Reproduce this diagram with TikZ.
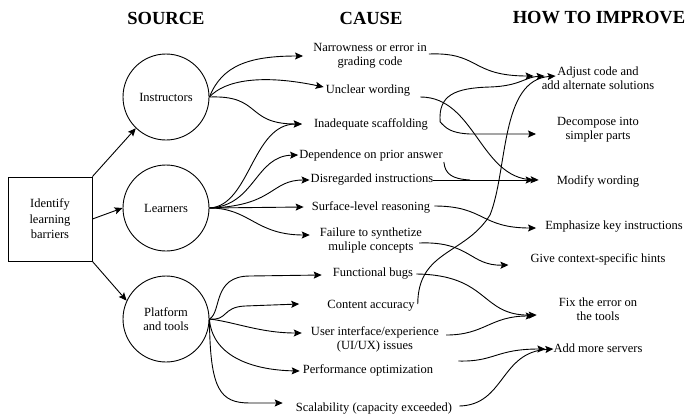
\documentclass[tikz,border=0pt]{standalone}
\usepackage{fontspec}
\setmainfont{Liberation Serif}
\usetikzlibrary{calc,arrows.meta}
\begin{document}
\begin{tikzpicture}[x=1pt,y=-1pt,
  every node/.style={font=\fontsize{12.5}{14}\selectfont, inner sep=0pt, align=center},
  head/.style={font=\fontsize{18.5}{20}\selectfont\bfseries},
  circ/.style={draw, circle, minimum size=86pt, line width=0.9pt},
  box/.style={draw, rectangle, minimum width=84pt, minimum height=84pt, line width=0.9pt, font=\fontsize{12.5}{15.5}\selectfont},
  conn/.style={line width=0.9pt, -{Stealth[length=8pt,width=7pt,inset=1.5pt]}},
  plain/.style={line width=0.9pt}
]
\useasboundingbox (0,0) rectangle (686,416);

% headers
\node[head] (hs) at (166,18) {SOURCE};
\node[head] (hc) at (371,18) {CAUSE};
\node[head] (hi) at (599,18) {HOW TO IMPROVE};

% source nodes
\node[box] (idb) at (50,219) {Identify\\learning\\barriers};
\node[circ] (ins) at (166,97) {Instructors};
\node[circ] (lea) at (166,208) {Learners};
\node[circ] (pla) at (166,319) {Platform\\and tools};

% cause nodes
\node (nar) at (370,56) {Narrowness or error in\\grading code};
\node (unc) at (368,91) {Unclear wording};
\node (ina) at (371,124) {Inadequate scaffolding};
\node (dep) at (371,155) {Dependence on prior answer};
\node (dis) at (372,180) {Disregarded instructions};
\node (sur) at (371,207) {Surface-level reasoning};
\node (fai) at (371,240) {Failure to synthetize\\muliple concepts};
\node (fun) at (373,274) {Functional bugs};
\node (con) at (371,306) {Content accuracy};
\node (ui)  at (375,339) {User interface/experience\\(UI/UX) issues};
\node (per) at (368,370) {Performance optimization};
\node (sca) at (374,409) {Scalability (capacity exceeded)};

% improve nodes
\node (adj) at (598,78) {Adjust code and\\add alternate solutions};
\node (dec) at (598,130) {Decompose into\\simpler parts};
\node (mod) at (598,181) {Modify wording};
\node (emp) at (614,227) {Emphasize key instructions};
\node (giv) at (598,259) {Give context-specific hints};
\node (fix) at (598,309) {Fix the error on\\the tools};
\node (add) at (598,348) {Add more servers};

% box to sources
\draw[conn] (idb.north east) -- (ins.226);
\draw[conn] (idb.east) -- (lea.west);
\draw[conn] (idb.south east) -- (pla.155);

% instructors
\draw[conn] (ins.east) .. controls (222,65) and (250,56) .. ($(nar.west)+(-10,0)$);
\draw[conn] (ins.east) .. controls (225,80) and (262,74) .. ($(unc.west)+(-2,-4)$);
\draw[conn] (ins.east) .. controls (262,95) and (245,124) .. ($(ina.west)+(-12,0)$);

% learners
\draw[conn] (lea.east) .. controls (250,206) and (252,124) .. ($(ina.west)+(-12,0)$);
\draw[conn] (lea.east) .. controls (255,206) and (255,156) .. ($(dep.west)+(-1,0)$);
\draw[conn] (lea.east) .. controls (275,206) and (270,180) .. ($(dis.west)+(-1,0)$);
\draw[conn] (lea.east) -- ($(sur.west)+(-8,0)$);
\draw[conn] (lea.east) .. controls (250,208) and (255,235) .. ($(fai.west)+(-10,-5)$);

% platform
\draw[conn] (pla.east) .. controls (222,312) and (212,276) .. (250,276) -- ($(fun.west)+(-11,1)$);
\draw[conn] (pla.east) .. controls (228,321) and (222,307) .. (245,306) -- ($(con.west)+(-28,-2)$);
\draw[conn] (pla.east) .. controls (235,322) and (260,333) .. ($(ui.west)+(-9,-6)$);
\draw[conn] (pla.east) .. controls (212,355) and (250,370) .. ($(per.west)+(-3,1)$);
\draw[conn] (pla.east) .. controls (210,390) and (220,403) .. (250,403) -- ($(sca.west)+(-13,-6)$);

% causes to improvements
\draw[conn] ($(nar.east)+(2,-2)$) .. controls (480,52) and (470,76) .. ($(adj.west)+(-8,-2)$);
\coordinate (inaS) at ($(ina.east)+(12,-2)$);
\draw[conn] (inaS) .. controls (438,95) and (455,88) .. (490,87) .. controls (520,86) and (525,77) .. ($(adj.west)+(3,-2)$);
\draw[conn] (inaS) .. controls (446,128) and (450,133) .. (470,134) -- ($(dec.west)+(-21,4)$);
\draw[conn] ($(unc.east)+(10,6)$) .. controls (475,97) and (480,178) .. ($(mod.west)+(-18,-1)$);
\draw[plain] ($(dep.east)+(1,7)$) .. controls (445,174) and (452,179) .. (470,180);
\draw[conn] (dis.east) -- ($(mod.west)+(-23,-1)$);
\draw[conn] ($(sur.east)+(4,-1)$) .. controls (485,206) and (480,228) .. ($(emp.west)+(-9,1)$);
\draw[conn] ($(fai.east)+(-3,3)$) .. controls (470,241) and (470,266) .. ($(giv.west)+(-22,6)$);
\draw[conn] ($(con.east)+(3,-2)$) .. controls (418,250) and (465,255) .. (490,215) .. controls (508,170) and (500,80) .. ($(adj.west)+(14,-2)$);
\draw[conn] ($(fun.east)+(3,0)$) .. controls (490,275) and (480,316) .. ($(fix.west)+(-22,6)$);
\draw[conn] ($(ui.east)+(7,-4)$) .. controls (485,335) and (490,316) .. ($(fix.west)+(-25,7)$);
\draw[conn] ($(per.east)+(25,-9)$) .. controls (495,362) and (495,349) .. ($(add.west)+(-8,1)$);
\draw[conn] ($(sca.east)+(7,-3)$) .. controls (505,405) and (500,352) .. ($(add.west)+(0,1)$);
\end{tikzpicture}
\end{document}
